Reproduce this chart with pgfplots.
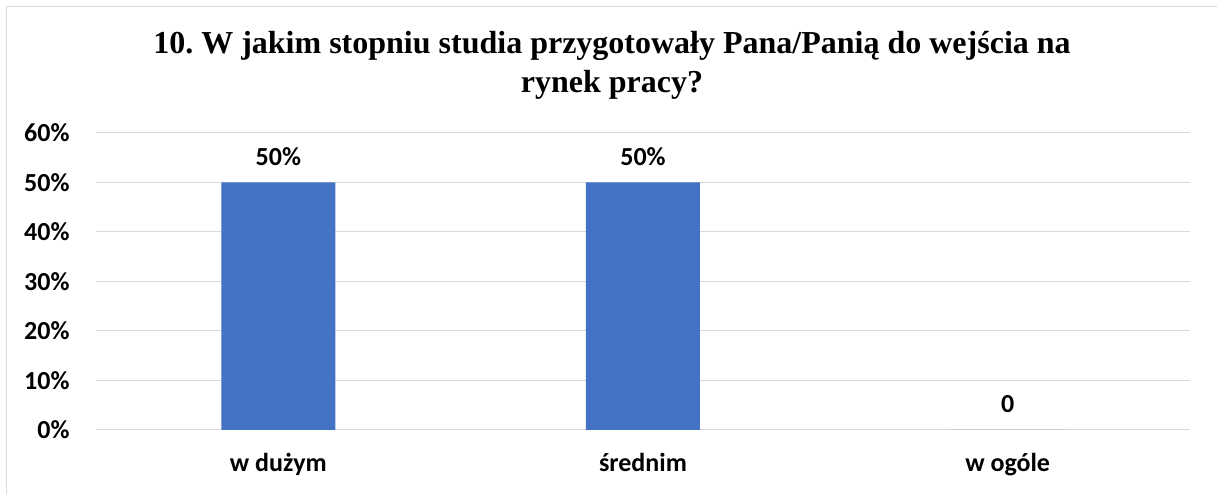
\documentclass[border=0pt]{standalone}
\usepackage{fontspec}
\setmainfont{Liberation Serif}
\newfontfamily\calibri{Carlito}
\usepackage{pgfplots}
\pgfplotsset{compat=1.18}

\definecolor{barblue}{HTML}{4472C4}
\definecolor{gridgray}{HTML}{D9D9D9}

\begin{document}
\frenchspacing
\begin{tikzpicture}
\useasboundingbox (0pt,0pt) rectangle (1217pt,494pt);
% chart frame (only left and top edges are visible in the crop)
\draw[gridgray, line width=1.2pt] (6.5pt,0pt) -- (6.5pt,487.5pt) -- (1217pt,487.5pt);

% anchor=base refers to the last line of the node
\node[font=\fontsize{32}{39}\selectfont\bfseries, align=center, anchor=base]
  at (612pt,401pt) {10. W jakim stopniu studia przygotowały Pana/Panią do wejścia na\\rynek pracy?};

\begin{axis}[
    at={(96pt,64pt)}, anchor=south west,
    scale only axis,
    width=1094pt, height=297pt,
    xmin=-0.5, xmax=2.5,
    ymin=0, ymax=60,
    axis line style={draw=none},
    ytick={0,10,...,60},
    yticklabel={\pgfmathprintnumber{\tick}\%},
    xtick={0,1,2},
    xticklabels={w dużym, średnim, w ogóle},
    ymajorgrids,
    grid style={gridgray, line width=1pt},
    major tick length=0pt,
    tick style={draw=none},
    tick label style={font=\calibri\fontsize{26}{30}\selectfont\bfseries},
    yticklabel style={anchor=east, xshift=-23pt},
    xticklabel style={anchor=base, yshift=-42pt},
    /pgf/number format/assume math mode=true,
    clip=false,
]
\addplot[ybar, bar width=114pt, fill=barblue, draw=none,
    point meta=explicit symbolic,
    nodes near coords,
    nodes near coords style={font=\calibri\fontsize{26}{30}\selectfont\bfseries, anchor=center, yshift=26pt}]
    coordinates {(0,50) [50\%] (1,50) [50\%] (2,0) [0]};
\end{axis}
\end{tikzpicture}
\end{document}
